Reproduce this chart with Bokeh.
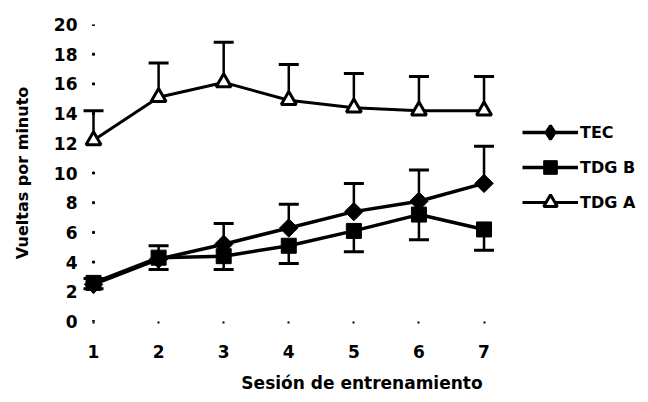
import numpy as np
from bokeh.plotting import figure
from bokeh.models import (ColumnDataSource, Whisker, TeeHead, Legend, LegendItem,
                          FixedTicker, Range1d)
from bokeh.embed import file_html
from bokeh.resources import INLINE

# ---- data ----
sessions = [1, 2, 3, 4, 5, 6, 7]
tec = [2.5, 4.2, 5.2, 6.3, 7.4, 8.1, 9.3]
tec_upper = [2.9, 5.1, 6.6, 7.9, 9.3, 10.2, 11.8]
tdg_b = [2.6, 4.3, 4.4, 5.1, 6.1, 7.2, 6.2]
tdg_b_lower = [2.2, 3.5, 3.5, 3.9, 4.7, 5.5, 4.8]
tdg_a = [12.2, 15.1, 16.1, 14.9, 14.4, 14.2, 14.2]
tdg_a_upper = [14.2, 17.4, 18.8, 17.3, 16.7, 16.5, 16.5]
y_ticks = [0, 2, 4, 6, 8, 10, 12, 14, 16, 18, 20]
labels = ["TEC", "TDG B", "TDG A"]
x_title = "Sesión de entrenamiento"
y_title = "Vueltas por minuto"

FONT = "DejaVu Sans"

p = figure(width=648, height=402, output_backend="svg", toolbar_location=None,
           x_range=Range1d(0.8, 9.45), y_range=Range1d(0, 20),
           min_border_left=80, min_border_right=5, min_border_top=24,
           min_border_bottom=81)
p.outline_line_color = None
p.grid.visible = False
p.background_fill_color = "white"

# axes
p.xaxis.ticker = FixedTicker(ticks=sessions)
p.yaxis.ticker = FixedTicker(ticks=y_ticks)
for ax in (p.xaxis, p.yaxis):
    ax.axis_line_color = None
    ax.minor_tick_line_color = None
    ax.major_label_text_font = FONT
    ax.major_label_text_font_style = "bold"
    ax.major_label_text_font_size = "17px"
    ax.major_label_text_color = "black"
    ax.axis_label_text_font = FONT
    ax.axis_label_text_font_style = "bold"
    ax.axis_label_text_color = "black"
p.xaxis.major_tick_in = 0
p.xaxis.major_tick_out = 2
p.xaxis.major_tick_line_width = 2
p.xaxis.major_tick_line_color = "black"
p.xaxis.major_label_standoff = 21
p.xaxis.axis_label = x_title
p.xaxis.axis_label_text_font_size = "17px"
p.xaxis.axis_label_standoff = 12
p.yaxis.major_tick_line_color = None
p.yaxis.major_tick_in = 0
p.yaxis.major_tick_out = 0
p.yaxis.major_label_standoff = 3
p.yaxis.axis_label = y_title
p.yaxis.axis_label_text_font_size = "16px"
p.yaxis.axis_label_standoff = 19

# small tick dots along the y axis at the first session
p.scatter(x=[sessions[0]] * len(y_ticks), y=y_ticks, marker="square", size=2,
          color="black")

src = ColumnDataSource(dict(x=sessions, tec=tec, tec_up=tec_upper,
                            b=tdg_b, b_low=tdg_b_lower,
                            a=tdg_a, a_up=tdg_a_upper))

LW = 3.5
l_tec = p.line("x", "tec", source=src, line_color="black", line_width=LW)
l_b = p.line("x", "b", source=src, line_color="black", line_width=LW)
l_a = p.line("x", "a", source=src, line_color="black", line_width=3)

def whisk(lower, upper):
    w = Whisker(base="x", lower=lower, upper=upper, source=src,
                line_color="black", line_width=2.5,
                upper_head=TeeHead(size=20, line_width=3, line_color="black"),
                lower_head=TeeHead(size=20, line_width=3, line_color="black"))
    return w

w_a = whisk("a", "a_up"); w_a.lower_head = None
w_tec = whisk("tec", "tec_up"); w_tec.lower_head = None
w_b = whisk("b_low", "b"); w_b.upper_head = None
for w in (w_a, w_tec, w_b):
    p.add_layout(w)

m_tec = p.scatter("x", "tec", source=src, marker="square", angle=np.pi / 4,
                  size=13, fill_color="black", line_color="black")
m_b = p.scatter("x", "b", source=src, marker="square", size=15,
                fill_color="black", line_color="black")
m_a = p.scatter("x", "a", source=src, marker="triangle", size=15,
                fill_color="white", line_color="black", line_width=3)
# diamond glyph used only for the legend icon (legend ignores marker angle)
m_tec_leg = p.scatter("x", "tec", source=src, marker="diamond", size=18,
                      fill_color="black", line_color="black", line_width=3,
                      visible=False)

legend = Legend(items=[
    LegendItem(label=labels[0], renderers=[l_tec, m_tec_leg]),
    LegendItem(label=labels[1], renderers=[l_b, m_b]),
    LegendItem(label=labels[2], renderers=[l_a, m_a]),
], location=(442, 102))
legend.glyph_width = 56
legend.glyph_height = 34
legend.spacing = 1
legend.padding = 0
legend.margin = 0
legend.label_standoff = 2
legend.border_line_color = None
legend.background_fill_alpha = 0
legend.label_text_font = FONT
legend.label_text_font_style = "bold"
legend.label_text_font_size = "16px"
legend.label_text_color = "black"
p.add_layout(legend)

open("out.html", "w").write(file_html(p, INLINE))
